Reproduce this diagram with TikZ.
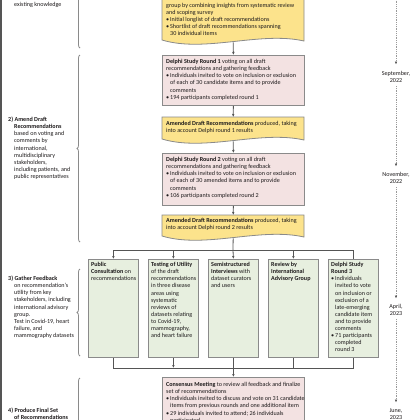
\documentclass[tikz,border=0pt]{standalone}
\usepackage{fontspec}
\setmainfont{Carlito}
\usetikzlibrary{arrows.meta,decorations.pathreplacing}
\definecolor{ylw}{HTML}{FCE38C}
\definecolor{pnk}{HTML}{F3E2E2}
\definecolor{grn}{HTML}{E7EFDF}
\definecolor{edge}{HTML}{8A8A8A}
\definecolor{ink}{HTML}{1E1B1C}
\definecolor{lnk}{HTML}{555555}
\definecolor{dotc}{HTML}{9A9A9A}
\newcommand\fsz{\fontsize{6.1bp}{7.1bp}\selectfont}
\newcommand\bul{\makebox[4bp][l]{•}}
\newcommand\ind{\hspace*{4bp}}
\newcommand\lin{\hspace*{6bp}}
\begin{document}
\begin{tikzpicture}[x=1bp,y=-1bp,
  shapebox/.style={draw=edge,line width=0.8bp,inner sep=0,anchor=north west},
  pinkbox/.style={shapebox,fill=pnk,minimum width=142bp},
  greenbox/.style={shapebox,fill=grn,minimum width=50bp,minimum height=98bp},
  ghost/.style={inner sep=0,anchor=north west,minimum width=142bp},
  wavefill/.style={draw=edge,line width=0.8bp,fill=ylw},
  txt/.style={inner sep=0,anchor=north west,align=left,font=\fsz,text=ink},
  tlab/.style={inner sep=0,anchor=north,align=center,font=\fsz,text=ink},
  conn/.style={draw=lnk,line width=0.8bp},
  arr/.style={conn,-{Latex[length=3bp,width=2.6bp]}},
  tline/.style={draw=dotc,line width=0.9bp,dash pattern=on 0.9bp off 0.9bp},
  tarr/.style={tline,-{Latex[length=3bp,width=2.6bp,color=lnk]}},
  brc/.style={draw=edge,line width=0.8bp,decorate,decoration={brace,amplitude=3bp}}
]
\useasboundingbox (0,0) rectangle (420,420);
\clip (0,0) rectangle (420,420);
\fill[white] (0,0) rectangle (420,420);
\draw[draw=lnk,line width=1.2bp] (1,-5) -- (1,425);

% ---- yellow wavy boxes
\path[wavefill] (162,-20) -- (304,-20) -- (304,41) .. controls (260,31) and (205,53) .. (162,40) -- cycle;
\node[ghost,minimum height=60bp] (y1) at (162,-20) {};
\path[wavefill] (162,117) -- (304,117) -- (304,140) .. controls (260,130) and (205,152) .. (162,139) -- cycle;
\node[ghost,minimum height=22bp] (y2) at (162,117) {};
\path[wavefill] (162,215) -- (304,215) -- (304,237) .. controls (260,227) and (205,249) .. (162,236) -- cycle;
\node[ghost,minimum height=21bp] (y3) at (162,215) {};

% ---- pink boxes
\node[pinkbox,minimum height=50bp] (b1) at (162,55) {};
\node[pinkbox,minimum height=52bp] (b2) at (162,153) {};
\node[pinkbox,minimum height=70bp] (b3) at (162,377) {};

% ---- green boxes
\node[greenbox] (g1) at (88,259) {};
\node[greenbox] (g2) at (148,259) {};
\node[greenbox] (g3) at (208,259) {};
\node[greenbox] (g4) at (268,259) {};
\node[greenbox] (g5) at (328,259) {};

% ---- texts in boxes
\node[txt] (ty1) at (166,2) {\strut group by combining insights from systematic review\\
and scoping survey\\
\bul Initial longlist of draft recommendations\\
\bul Shortlist of draft recommendations spanning\\
\ind 30 individual items};
\node[txt] (tb1) at (166,58.5) {\strut\textbf{Delphi Study Round 1} voting on all draft\\
recommendations and gathering feedback\\
\bul Individuals invited to vote on inclusion or exclusion\\
\ind of each of 30 candidate items and to provide\\
\ind comments\\
\bul 194 participants completed round 1};
\node[txt] (ty2) at (166,120.5) {\strut\textbf{Amended Draft Recommendations} produced, taking\\
into account Delphi round 1 results};
\node[txt] (tb2) at (166,156.5) {\strut\textbf{Delphi Study Round 2} voting on all draft\\
recommendations and gathering feedback\\
\bul Individuals invited to vote on inclusion or exclusion\\
\ind of each of 30 amended items and to provide\\
\ind comments\\
\bul 106 participants completed round 2};
\node[txt] (ty3) at (166,217.5) {\strut\textbf{Amended Draft Recommendations} produced, taking\\
into account Delphi round 2 results};
\node[txt] (tg1) at (91,261.5) {\strut\textbf{Public}\\ \textbf{Consultation} on\\ recommendations};
\node[txt] (tg2) at (151,261.5) {\strut\textbf{Testing of Utility}\\ of the draft\\ recommendations\\ in three disease\\ areas using\\ systematic\\ reviews of\\ datasets relating\\ to Covid-19,\\ mammography,\\ and heart failure};
\node[txt] (tg3) at (211,261.5) {\strut\textbf{Semistructured}\\ \textbf{Interviews} with\\ dataset curators\\ and users};
\node[txt] (tg4) at (271,261.5) {\strut\textbf{Review by}\\ \textbf{International}\\ \textbf{Advisory Group}};
\node[txt] (tg5) at (331,261.5) {\strut\textbf{Delphi Study}\\ \textbf{Round 3}\\ \bul Individuals\\ \ind invited to vote\\ \ind on inclusion or\\ \ind exclusion of a\\ \ind late-emerging\\ \ind candidate item\\ \ind and to provide\\ \ind comments\\ \bul 71 participants\\ \ind completed\\ \ind round 3};
\node[txt] (tb3) at (166,381.5) {\strut\textbf{Consensus Meeting} to review all feedback and finalize\\
set of recommendations\\
\bul Individuals invited to discuss and vote on 31 candidate\\
\ind items from previous rounds and one additional item\\
\bul 29 individuals invited to attend; 26 individuals\\
\ind participated};

% ---- connectors
\coordinate (split) at (233,250);
\coordinate (merge) at (233,368);
\draw[arr,shorten <=2bp] (y1.south) -- (b1.north);
\draw[arr] (b1.south) -- (y2.north);
\draw[arr,shorten <=2bp] (y2.south) -- (b2.north);
\draw[arr] (b2.south) -- (y3.north);
\draw[conn,shorten <=2bp] (y3.south) -- (split);
\draw[conn] (g1.north |- split) -- (g5.north |- split) -- (g5.north);
\draw[arr] (g1.north |- split) -- (g1.north);
\draw[arr] (g2.north |- split) -- (g2.north);
\draw[arr] (split) -- (g3.north);
\draw[arr] (g4.north |- split) -- (g4.north);
\draw[conn] (g1.south) -- (g1.south |- merge) -- (g5.south |- merge) -- (g5.south);
\draw[arr] (g2.south) -- (g2.south |- merge);
\draw[conn] (g4.south) -- (g4.south |- merge);
\draw[arr] (g3.south) -- (b3.north);

% ---- left column
\node[txt] (l1) at (14,1.5) {\strut existing knowledge};
\node[txt] (l2) at (8,116.5) {\strut\textbf{2) Amend Draft}\\
\lin\textbf{Recommendations}\\
\lin based on voting and\\
\lin comments by\\
\lin international,\\
\lin multidisciplinary\\
\lin stakeholders,\\
\lin including patients, and\\
\lin public representatives};
\node[txt] (l3) at (8,275.5) {\strut\textbf{3) Gather Feedback}\\
\lin on recommendation's\\
\lin utility from key\\
\lin stakeholders, including\\
\lin international advisory\\
\lin group.\\
\lin Test in Covid-19, heart\\
\lin failure, and\\
\lin mammography datasets};
\node[txt] (l4) at (8,407.5) {\strut\textbf{4) Produce Final Set}\\
\lin\textbf{of Recommendations}};

% ---- braces
\draw[brc] (80,48) -- (80,-80);
\draw[brc] (80,242) -- (80,55);
\draw[brc] (80,356) -- (80,269);
\draw[brc] (80,480) -- (80,378);

% ---- timeline
\node[tlab] (sep) at (396,70.5) {\strut September,\\2022};
\node[tlab] (nov) at (396,171.5) {\strut November,\\2022};
\node[tlab] (apr) at (396,303.5) {\strut April,\\2023};
\node[tlab] (jun) at (396,407.5) {\strut June,\\2023};
\coordinate (t0) at (396,-3);
\draw[tarr,shorten >=6bp] (t0) -- (sep.north);
\draw[tarr,shorten <=3bp,shorten >=5bp] (sep.south) -- (nov.north);
\draw[tarr,shorten <=3bp,shorten >=5bp] (nov.south) -- (apr.north);
\draw[tarr,shorten <=3bp,shorten >=5bp] (apr.south) -- (jun.north);
\end{tikzpicture}
\end{document}
